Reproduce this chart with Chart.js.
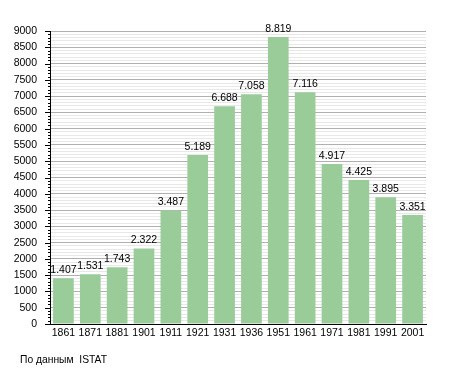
<!DOCTYPE html>
<html><head><meta charset="utf-8">
<script src="https://cdn.jsdelivr.net/npm/chart.js@4/dist/chart.umd.min.js"></script>
<style>
html,body{margin:0;padding:0;background:#fff;}
#wrap{position:relative;width:455px;height:373px;}
#note{position:absolute;left:20px;top:354px;font:10.3px "Liberation Sans",Arial,sans-serif;color:#000;white-space:pre;}
</style></head><body>
<div id="wrap"><canvas id="c" width="455" height="373"></canvas><div id="note">По данным  ISTAT</div></div>
<script>
const years = ["1861","1871","1881","1901","1911","1921","1931","1936","1951","1961","1971","1981","1991","2001"];
const population = [1407,1531,1743,2322,3487,5189,6688,7058,8819,7116,4917,4425,3895,3351];
const yMin = 0, yMax = 9000, majorStep = 500, minorStep = 100;

const FONT = '"Liberation Sans", Arial, sans-serif';
const fmt = v => String(v).replace(/\B(?=(\d{3})+(?!\d))/g, '.');

const labelPlugin = {
  id: 'valueLabels',
  afterDatasetsDraw(chart) {
    const ctx = chart.ctx;
    const meta = chart.getDatasetMeta(0);
    ctx.save();
    ctx.font = '10.5px ' + FONT;
    ctx.fillStyle = '#000';
    ctx.textAlign = 'center';
    ctx.textBaseline = 'bottom';
    meta.data.forEach((bar, i) => {
      ctx.fillText(fmt(population[i]), bar.x, bar.y - 3);
    });
    ctx.restore();
  }
};

const tickPlugin = {
  id: 'yTicks',
  afterDraw(chart) {
    const s = chart.scales.y;
    const ctx = chart.ctx;
    const x = chart.chartArea.left;
    ctx.save();
    ctx.strokeStyle = '#000';
    ctx.lineWidth = 1;
    s.ticks.forEach(t => {
      const y = Math.round(s.getPixelForValue(t.value)) + 0.5;
      const major = t.value % majorStep === 0;
      ctx.beginPath();
      ctx.moveTo(x - (major ? 5 : 2), y);
      ctx.lineTo(x + 1, y);
      ctx.stroke();
    });
    ctx.restore();
  }
};

new Chart(document.getElementById('c'), {
  type: 'bar',
  data: {
    labels: years,
    datasets: [{
      data: population,
      backgroundColor: '#99cc99',
      borderWidth: 0,
      categoryPercentage: 1.0,
      barPercentage: 0.77
    }]
  },
  options: {
    responsive: false,
    animation: false,
    devicePixelRatio: 1,
    layout: { padding: { left: 0, right: 29, top: 31, bottom: 29 } },
    plugins: { legend: { display: false }, tooltip: { enabled: false } },
    scales: {
      x: {
        grid: { display: false, drawTicks: false },
        border: { color: '#000', width: 1 },
        ticks: { color: '#000', font: { family: FONT, size: 10.5 }, padding: 3, maxRotation: 0, autoSkip: false },
        afterFit(s) { s.height = 20; }
      },
      y: {
        min: yMin, max: yMax,
        grid: {
          color: ctx => (ctx.tick && ctx.tick.value % majorStep === 0) ? '#b0b0b0' : '#e8e8e8',
          drawTicks: false
        },
        border: { color: '#000', width: 1 },
        ticks: {
          stepSize: minorStep,
          autoSkip: false,
          color: '#000',
          font: { family: FONT, size: 10.5 },
          padding: 13,
          callback: v => (v % majorStep === 0 ? String(v) : '')
        },
        afterFit(s) { s.width = 50; }
      }
    }
  },
  plugins: [labelPlugin, tickPlugin]
});
</script>
</body></html>
